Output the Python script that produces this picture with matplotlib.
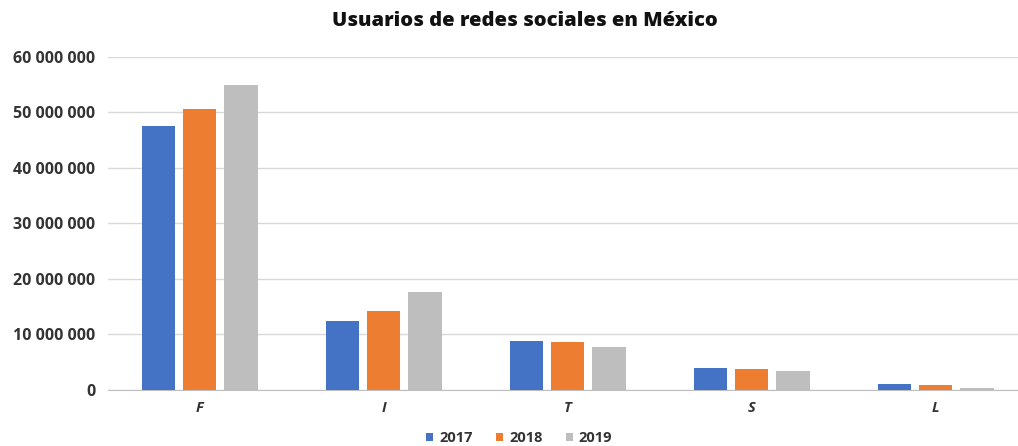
import numpy as np
import matplotlib.pyplot as plt
from matplotlib.patches import Patch
from matplotlib.ticker import FuncFormatter

# Usuarios de redes sociales en México (2017-2019)
redes = ["F", "I", "T", "S", "L"]
anios = ["2017", "2018", "2019"]
u2017 = [47_600_000, 12_400_000, 8_800_000, 4_000_000, 1_100_000]
u2018 = [50_600_000, 14_200_000, 8_600_000, 3_800_000, 850_000]
u2019 = [55_000_000, 17_600_000, 7_800_000, 3_400_000, 400_000]
colores = ["#4472C4", "#ED7D31", "#BEBEBE"]

plt.rcParams["font.family"] = ["Open Sans", "DejaVu Sans"]

fig = plt.figure(figsize=(10.18, 4.46), dpi=100)
ax = fig.add_axes([0.106, 0.1256, 0.894, 0.7466])

x = np.arange(len(redes))
ancho = 0.18
paso = 0.223
for k, (serie, col) in enumerate(zip([u2017, u2018, u2019], colores)):
    ax.bar(x + (k - 1) * paso, serie, width=ancho, color=col, zorder=3)

ax.set_xlim(-0.5, 4.446)
ax.set_ylim(0, 60_000_000)
ax.set_yticks(np.arange(0, 60_000_001, 10_000_000))
ax.yaxis.set_major_formatter(FuncFormatter(lambda v, p: f"{int(v):,}".replace(",", " ")))
ax.grid(axis="y", color="#D9D9D9", lw=1, zorder=0)
ax.set_axisbelow(True)
for s in ["top", "right", "left"]:
    ax.spines[s].set_visible(False)
ax.spines["bottom"].set_color("#BFBFBF")
ax.tick_params(axis="y", length=0, pad=9, labelsize=11.5, labelcolor="#333333")
ax.tick_params(axis="x", length=0, pad=8)
ax.set_xticks(x)
ax.set_xticklabels(redes, fontsize=10.5, fontweight="bold", fontstyle="italic", color="#333333")
for t in ax.get_yticklabels():
    t.set_fontweight("bold")

fig.suptitle("Usuarios de redes sociales en México", x=0.516, y=0.975,
             fontsize=14.5, fontweight="heavy", color="#111111")

handles = [Patch(facecolor=c, edgecolor="none") for c in colores]
fig.legend(handles, anios, loc="center", bbox_to_anchor=(0.51, 0.018), ncol=3,
           frameon=False, handlelength=0.5, handleheight=0.5, handletextpad=0.4,
           columnspacing=1.6, prop={"weight": "bold", "size": 10.5})
for t in fig.legends[0].get_texts():
    t.set_color("#333333")

fig.savefig("out.png", dpi=100)
